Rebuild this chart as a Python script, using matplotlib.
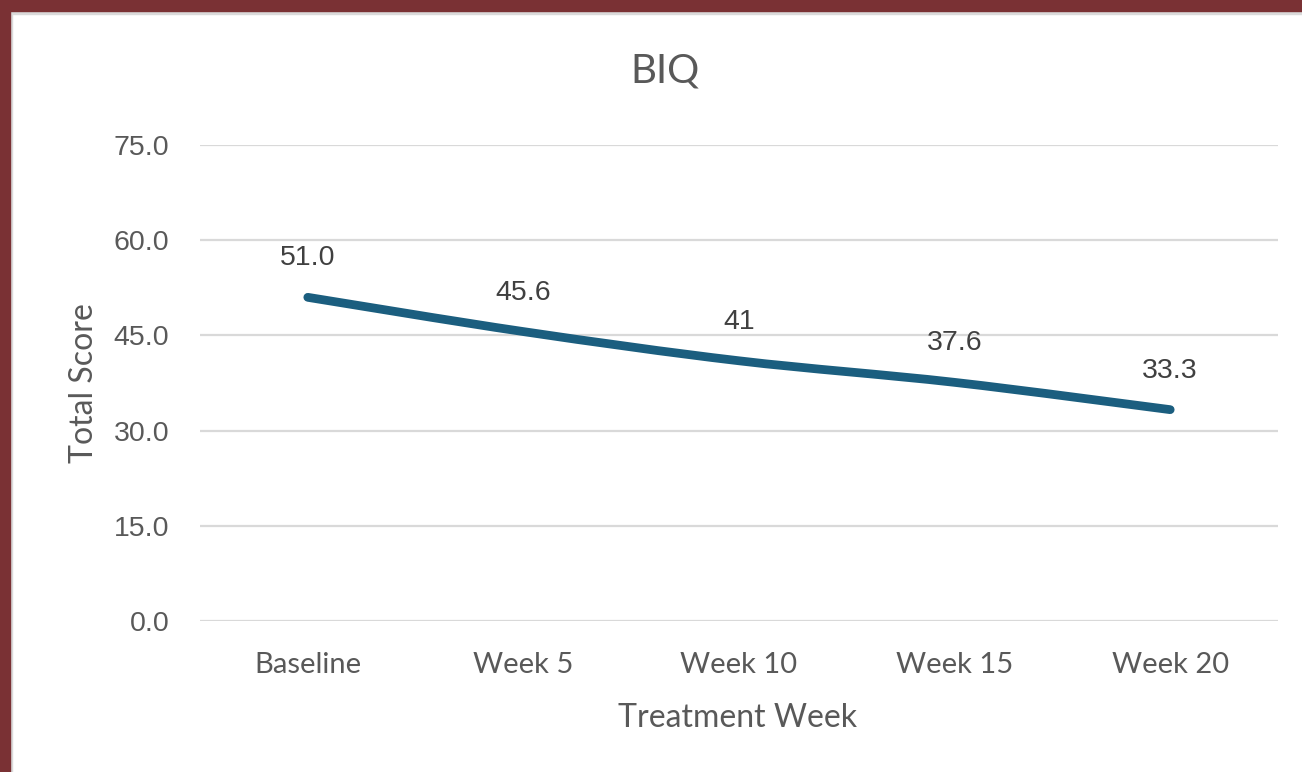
import matplotlib
matplotlib.use("Agg")
import matplotlib.pyplot as plt
from matplotlib.path import Path
from matplotlib.patches import PathPatch, Rectangle
import numpy as np

categories = ["Baseline", "Week 5", "Week 10", "Week 15", "Week 20"]
scores = [51.0, 45.6, 41.0, 37.6, 33.3]
score_labels = ["51.0", "45.6", "41", "37.6", "33.3"]
yticks = [0.0, 15.0, 30.0, 45.0, 60.0, 75.0]

W, H = 1302, 772
fig = plt.figure(figsize=(W / 100, H / 100), dpi=100)
fig.patch.set_facecolor("white")

# frame border
red = "#7A3134"
fig.add_artist(Rectangle((0, 1 - 11 / H), 1, 11 / H, transform=fig.transFigure, color=red, zorder=10))
fig.add_artist(Rectangle((0, 0), 10 / W, 1, transform=fig.transFigure, color=red, zorder=10))
fig.add_artist(Rectangle((10 / W, 1 - 14 / H), 1, 3 / H, transform=fig.transFigure, color="#DADADA", zorder=9))
fig.add_artist(Rectangle((10 / W, 0), 2 / W, 1 - 11 / H, transform=fig.transFigure, color="#DADADA", zorder=9))

left, right = 200 / W, 1278 / W
bottom, top = 1 - 621 / H, 1 - 145 / H
ax = fig.add_axes([left, bottom, right - left, top - bottom])
ax.set_xlim(-0.5, len(categories) - 0.5)
ax.set_ylim(0, 75)
ax.set_yticks(yticks)
ax.set_yticklabels([f"{v:.1f}" for v in yticks])
ax.set_xticks(range(len(categories)))
ax.set_xticklabels(categories)
for s in ax.spines.values():
    s.set_visible(False)
ax.grid(axis="y", color="#D9D9D9", linewidth=1.6)
ax.set_axisbelow(True)
ax.tick_params(length=0, labelcolor="#595959")
ax.tick_params(axis="x", pad=22)
ax.tick_params(axis="y", pad=22)
for lab in ax.get_xticklabels():
    lab.set_family(["Lato", "DejaVu Sans"])
    lab.set_fontsize(21)
for lab in ax.get_yticklabels():
    lab.set_family(["Liberation Sans", "DejaVu Sans"])
    lab.set_fontsize(20.5)

# smoothed line (Catmull-Rom style Bezier, as in spreadsheet smoothing)
xs = np.arange(len(scores), dtype=float)
ys = np.array(scores, dtype=float)
t = 1 / 6
verts = [(xs[0], ys[0])]
codes = [Path.MOVETO]
n = len(xs)
for i in range(n - 1):
    p0 = (xs[max(i - 1, 0)], ys[max(i - 1, 0)])
    p1 = (xs[i], ys[i])
    p2 = (xs[i + 1], ys[i + 1])
    p3 = (xs[min(i + 2, n - 1)], ys[min(i + 2, n - 1)])
    c1 = (p1[0] + (p2[0] - p0[0]) * t, p1[1] + (p2[1] - p0[1]) * t)
    c2 = (p2[0] - (p3[0] - p1[0]) * t, p2[1] - (p3[1] - p1[1]) * t)
    verts += [c1, c2, p2]
    codes += [Path.CURVE4] * 3
ax.add_patch(PathPatch(Path(verts, codes), fill=False, edgecolor="#1B5E7F",
                       linewidth=6.3, capstyle="round", joinstyle="round", zorder=3))

for x, y, lab in zip(xs, ys, score_labels):
    ax.annotate(lab, (x, y), xytext=(0, 23), textcoords="offset points",
                ha="center", va="baseline", fontsize=20.5, color="#404040",
                family=["Liberation Sans", "DejaVu Sans"])

fig.text(665 / W, 1 - 82 / H, "BIQ", ha="center", va="baseline",
         fontsize=29, color="#595959", family=["Lato", "DejaVu Sans"])
fig.text(84 / W, 1 - 383 / H, "Total Score", ha="center", va="center", rotation=90,
         fontsize=23, color="#595959", family=["Lato", "DejaVu Sans"])
fig.text(738 / W, 1 - 727 / H, "Treatment Week", ha="center", va="baseline",
         fontsize=23, color="#595959", family=["Lato", "DejaVu Sans"])

fig.savefig("out.png", dpi=100)
